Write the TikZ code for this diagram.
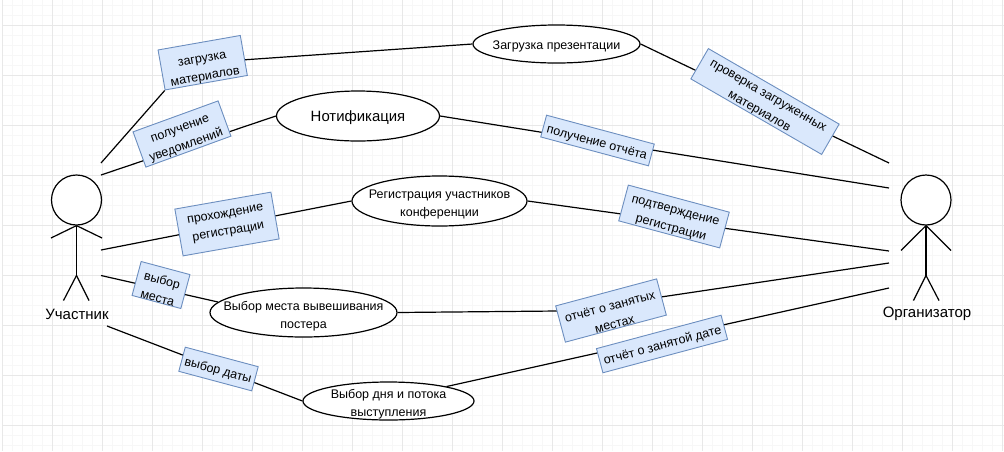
\documentclass[tikz,border=0pt]{standalone}
\usepackage{xcolor}
\usepackage{fontspec}
\setmainfont{Liberation Sans}
\usetikzlibrary{shapes.geometric, backgrounds}
\definecolor{labelblue}{HTML}{DAE8FC}
\definecolor{labelborder}{HTML}{6C8EBF}
\definecolor{gridmajor}{HTML}{E8E8E8}
\definecolor{gridminor}{HTML}{F7F7F7}
% pushes the lines of a node down inside its box
\newcommand{\lift}[1]{\rule{0pt}{#1pt}}

\begin{document}
\begin{tikzpicture}[
    x=1pt, y=-1pt,
    usecase/.style={draw, ellipse, fill=white, line width=1.2pt, inner xsep=-20pt, inner ysep=-10pt, align=center, font=\fontsize{12.5}{18}\selectfont},
    flowlabel/.style={draw=labelborder, fill=labelblue, line width=0.9pt, inner sep=0pt, align=center, font=\fontsize{12.5}{18}\selectfont},
    actorhead/.style={draw, circle, fill=white, line width=1.2pt, minimum size=50pt, inner sep=0pt},
    actorname/.style={font=\fontsize{15}{17}\selectfont},
    limb/.style={line width=1.2pt},
    link/.style={line width=1.2pt}
]
\useasboundingbox (0,0) rectangle (1004,451);

% Use cases
\node[usecase, minimum width=167pt, minimum height=38pt] (upload) at (556.5,44) {\lift{13.5}Загрузка презентации};
\node[usecase, minimum width=163pt, minimum height=50pt, font=\fontsize{14.9}{17}\selectfont] (notify) at (358,116) {\lift{15}Нотификация};
\node[usecase, minimum width=175pt, minimum height=50pt] (register) at (439.5,201) {\lift{16}Регистрация участников\\конференции};
\node[usecase, minimum width=187pt, minimum height=49pt] (place) at (303.5,312.5) {\lift{16}Выбор места вывешивания\\постера};
\node[usecase, minimum width=171pt, minimum height=38pt] (slot) at (388.5,401) {\lift{16}Выбор дня и потока\\выступления};

% Participant
\node[actorhead] (userhead) at (76.5,200) {};
\coordinate (userhip) at (76.5,275.5);
\coordinate (userarml) at (51,238);
\coordinate (userarmr) at (102,238);
\coordinate (userlegl) at (63.5,300.5);
\coordinate (userlegr) at (89,300.5);
\node[actorname] (username) at (77,314) {Участник};
\draw[limb] (userhead.south) -- (userhip);
\draw[limb] (userhead.south) -- (userarml);
\draw[limb] (userhead.south) -- (userarmr);
\draw[limb] (userhip) -- (userlegl);
\draw[limb] (userhip) -- (userlegr);

% Organizer
\node[actorhead] (orghead) at (926,200) {};
\coordinate (orghip) at (926,275.5);
\coordinate (orgarml) at (901,250.5);
\coordinate (orgarmr) at (951,250.5);
\coordinate (orglegl) at (913.5,300.5);
\coordinate (orglegr) at (939,300.5);
\node[actorname] (orgname) at (927,314) {Организатор};
\draw[limb] (orghead.south) -- (orghip);
\draw[limb] (orghead.south) -- (orgarml);
\draw[limb] (orghead.south) -- (orgarmr);
\draw[limb] (orghip) -- (orglegl);
\draw[limb] (orghip) -- (orglegr);

% Free ends beside the actors
\coordinate (userA) at (101,163);
\coordinate (userB) at (101,175);
\coordinate (userC) at (101,250);
\coordinate (userD) at (101,275.5);
\coordinate (userE) at (107,326);
\coordinate (orgA) at (889,163);
\coordinate (orgB) at (889,188);
\coordinate (orgC) at (889,251);
\coordinate (orgD) at (889,263);
\coordinate (orgE) at (889,288);

% Labels
\node[flowlabel, rotate=10, minimum width=83.5pt, minimum height=37pt] (lblupload) at (202.7,62.7) {\lift{20}загрузка\\материалов};
\node[flowlabel, rotate=20, minimum width=90.5pt, minimum height=37.5pt] (lblnotify) at (182,134) {\lift{16}получение\\уведомлений};
\node[flowlabel, rotate=10, minimum width=97.5pt, minimum height=47.5pt] (lblregister) at (227,224) {прохождение\\регистрации};
\node[flowlabel, rotate=-15, minimum width=50.5pt, minimum height=31pt] (lblplace) at (161,285) {\lift{17}выбор\\места};
\node[flowlabel, rotate=-15, minimum width=75.5pt, minimum height=25pt] (lblslot) at (218.5,369) {\lift{13}выбор даты};
\node[flowlabel, rotate=-30, minimum width=151pt, minimum height=35pt] (lblcheck) at (765,101.5) {\lift{14}проверка загруженных\\материалов};
\node[flowlabel, rotate=-15, minimum width=111.5pt, minimum height=22.5pt] (lblreport) at (597.5,140.5) {\lift{14}получение отчёта};
\node[flowlabel, rotate=-15, minimum width=104.5pt, minimum height=37pt] (lblconfirm) at (674,216.5) {\lift{15}подтверждение\\регистрации};
\node[flowlabel, rotate=15, minimum width=104.5pt, minimum height=37.5pt] (lbltaken) at (611,310.5) {\lift{18}отчёт о занятых\\местах};
\node[flowlabel, rotate=15, minimum width=129pt, minimum height=25pt] (lbldate) at (662,344) {\lift{13}отчёт о занятой дате};

\begin{scope}[on background layer]
% Grid
\foreach \i in {0,...,100} \draw[gridminor, line width=0.8pt] ({2+10*\i},0) -- ({2+10*\i},451);
\foreach \j in {0,...,44} \draw[gridminor, line width=0.8pt] (2,{5+10*\j}) -- (1004,{5+10*\j});
\foreach \i in {0,...,20} \draw[gridmajor, line width=0.9pt] ({2+50*\i},0) -- ({2+50*\i},451);
\foreach \j in {0,...,8} \draw[gridmajor, line width=0.9pt] (2,{25+50*\j}) -- (1004,{25+50*\j});

% Connectors
\draw[link] (userA) -- (lblupload.south west);
\draw[link] (lblupload.center) -- (upload.west);
\draw[link] (upload.east) -- (orgA);
\draw[link] (userB) -- (notify.west);
\draw[link] (notify.east) -- (orgB);
\draw[link] (userC) -- (register.west);
\draw[link] (register.east) -- (orgC);
\draw[link] (userD) -- (place.173);
\draw[link] (place.east) -- (lbltaken.center);
\draw[link] (lbltaken.east) -- (orgD);
\draw[link] (userE) -- (slot.west);
\draw[link] (slot.14) -- (orgE);
\end{scope}
\end{tikzpicture}
\end{document}
